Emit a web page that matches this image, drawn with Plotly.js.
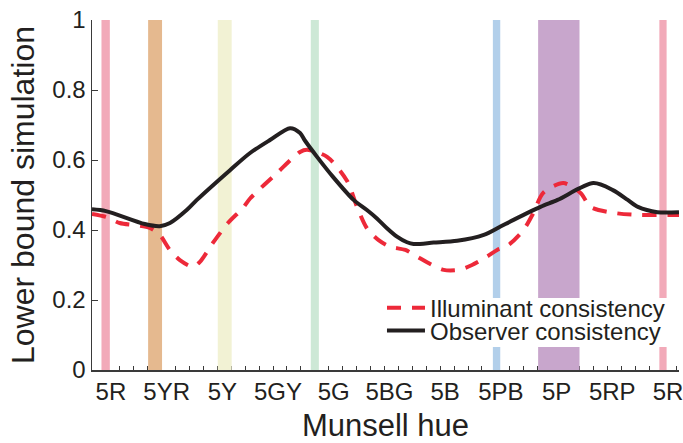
<!DOCTYPE html>
<html>
<head>
<meta charset="utf-8">
<script src="https://cdn.plot.ly/plotly-3.0.1.min.js"></script>
<style>
  html, body { margin: 0; padding: 0; background: #ffffff; }
  #chart { width: 683px; height: 443px; }
</style>
</head>
<body>
<div id="chart"></div>
<script>
// Hue axis: Munsell hue steps (2.5 hue units each), 5R = 0, full circle = 40 steps
const hueTickSteps = [0, 4, 8, 12, 16, 20, 24, 28, 32, 36, 40];
const hueTickLabels = ['5R', '5YR', '5Y', '5GY', '5G', '5BG', '5B', '5PB', '5P', '5RP', '5R'];

// Coloured hue bands (centre in hue steps, band width in hue steps)
const bandCenters = [-0.02, 3.53, 8.53, 15.0, 28.05, 32.52, 40.0];
const bandWidths  = [0.6, 1.0, 1.0, 0.58, 0.53, 2.97, 0.52];
const bandHeights = [1, 1, 1, 1, 1, 1, 1];
const bandColors  = ['#f2aab9', '#e5b98f', '#f2f2d4', '#cde8d6', '#b2cfea', '#c8a6cc', '#f2aab9'];

// Illuminant consistency (red dashed)
const illumHue = [-1, 0.05, 0.99, 2.07, 3.15, 3.87, 4.59, 5.31, 6.24, 6.75, 7.68, 8.76, 9.84, 10.35,
  12.29, 13.94, 14.45, 15.88, 17.32, 18.02, 18.74, 19.58, 20.42, 21.5, 22.34, 23.42, 24.25, 25.33,
  26.29, 27.37, 28.09, 28.83, 29.98, 30.7, 31.4, 32.84, 34.08, 34.8, 36.46, 38.19, 40.35, 41.15];
const illumVal = [0.446, 0.437, 0.42, 0.414, 0.406, 0.386, 0.343, 0.314, 0.295, 0.309, 0.363, 0.42, 0.463, 0.49,
  0.563, 0.623, 0.629, 0.609, 0.54, 0.467, 0.405, 0.371, 0.352, 0.343, 0.324, 0.30, 0.286, 0.286,
  0.30, 0.324, 0.343, 0.355, 0.40, 0.449, 0.506, 0.534, 0.506, 0.466, 0.449, 0.443, 0.443, 0.443];

// Observer consistency (black solid)
const obsHue = [-1, 0, 2.79, 3.87, 4.6, 5.8, 6.53, 8.91, 10.35, 11.78, 13.22, 13.94, 14.3, 15.16, 16.32,
  17.78, 18.74, 19.46, 20.18, 20.9, 21.62, 22.09, 23.53, 25.22, 27.13, 28.33, 29.27, 31.2, 32.43,
  35.0, 36.4, 37.47, 38.2, 39.6, 41.15];
const obsVal = [0.459, 0.454, 0.417, 0.411, 0.42, 0.457, 0.486, 0.571, 0.620, 0.657, 0.691, 0.677, 0.655, 0.609, 0.551,
  0.486, 0.457, 0.433, 0.405, 0.381, 0.365, 0.36, 0.364, 0.369, 0.386, 0.41, 0.429, 0.466, 0.486,
  0.534, 0.514, 0.486, 0.466, 0.451, 0.451];

const yTicks = [0, 0.2, 0.4, 0.6, 0.8, 1];
const yTickLabels = ['0', '0.2', '0.4', '0.6', '0.8', '1'];

const FONT = 'Liberation Sans, Arial, Helvetica, sans-serif';
const INK = '#231f20';
const AXIS = '#3a3a3a';

const traces = [
  {
    type: 'bar', x: bandCenters, y: bandHeights, width: bandWidths, base: 0,
    marker: { color: bandColors, line: { width: 0 } },
    showlegend: false, hoverinfo: 'skip'
  },
  {
    type: 'scatter', mode: 'lines', x: illumHue, y: illumVal,
    name: 'Illuminant consistency', legend: 'legend',
    line: { color: '#ed2939', width: 4, dash: '14px,11px', shape: 'spline', smoothing: 0.8 }
  },
  {
    type: 'scatter', mode: 'lines', x: obsHue, y: obsVal,
    name: 'Observer consistency', legend: 'legend2',
    line: { color: INK, width: 4, shape: 'spline', smoothing: 0.8 }
  }
];

const layout = {
  width: 683, height: 443,
  margin: { l: 92, r: 4, t: 20, b: 73 },
  paper_bgcolor: '#ffffff', plot_bgcolor: '#ffffff',
  font: { family: FONT, color: INK },
  barmode: 'overlay',
  xaxis: {
    range: [-1, 41.15], showgrid: false, zeroline: false,
    showline: true, linecolor: AXIS, linewidth: 1.5,
    tickmode: 'array', tickvals: hueTickSteps, ticktext: hueTickLabels,
    ticks: 'inside', ticklen: 4, tickwidth: 1, tickcolor: AXIS,
    ticklabelshift: 5, ticklabeloverflow: 'allow',
    tickfont: { family: FONT, size: 24, color: INK },
    minor: { tickmode: 'linear', tick0: 0, dtick: 1, ticks: 'inside', ticklen: 4, tickwidth: 1, tickcolor: AXIS, showgrid: false },
    layer: 'below traces',
    title: { text: 'Munsell hue', font: { family: FONT, size: 31, color: INK }, standoff: 11 },
    fixedrange: true
  },
  yaxis: {
    range: [0, 1], showgrid: false, zeroline: false,
    showline: true, linecolor: AXIS, linewidth: 1.5,
    tickmode: 'array', tickvals: yTicks, ticktext: yTickLabels,
    ticks: 'inside', ticklen: 6, tickwidth: 1, tickcolor: AXIS,
    tickfont: { family: FONT, size: 24, color: INK },
    layer: 'below traces',
    title: { text: 'Lower bound simulation', font: { family: FONT, size: 32, color: INK }, standoff: 8 },
    fixedrange: true
  },
  shapes: [
    { type: 'rect', xref: 'paper', yref: 'paper', x0: 0.499, x1: 1.0, y0: 0.066, y1: 0.206,
      fillcolor: '#ffffff', line: { width: 0 }, layer: 'above' }
  ],
  legend: {
    x: 0.494, xanchor: 'left', y: 0.177, yanchor: 'middle',
    bgcolor: 'rgba(0,0,0,0)', borderwidth: 0, itemwidth: 38,
    font: { family: FONT, size: 24, color: INK }
  },
  legend2: {
    x: 0.494, xanchor: 'left', y: 0.112, yanchor: 'middle',
    bgcolor: 'rgba(0,0,0,0)', borderwidth: 0, itemwidth: 38,
    font: { family: FONT, size: 24, color: INK }
  },
  showlegend: true
};

Plotly.newPlot('chart', traces, layout, { displayModeBar: false, staticPlot: true });
</script>
</body>
</html>
